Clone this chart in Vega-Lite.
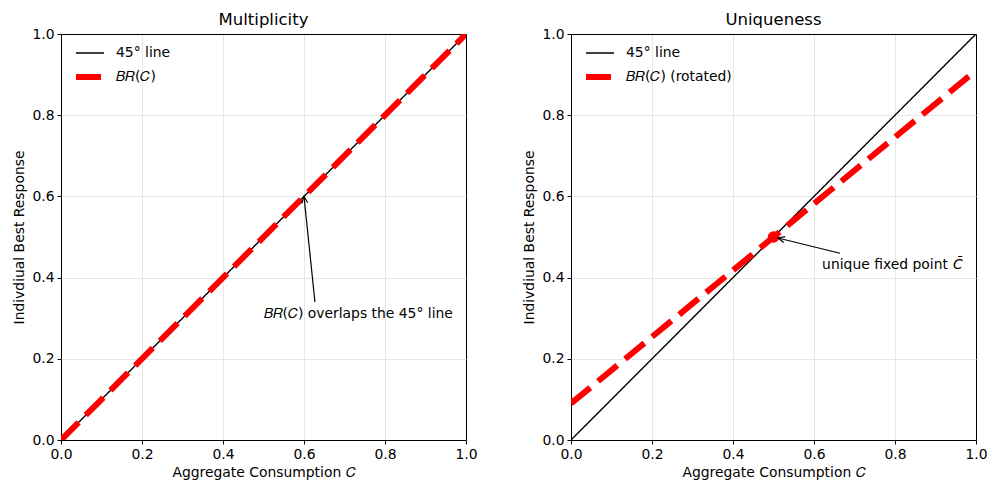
{
  "$schema": "https://vega.github.io/schema/vega-lite/v6.json",
  "padding": {"left": 12, "top": 11, "right": 5, "bottom": 0},
  "spacing": 44,
  "datasets": {
    "lines1": [
      {"C": 0, "y": 0, "series": "45° line"},
      {"C": 1, "y": 1, "series": "45° line"},
      {"C": 0, "y": 0, "series": "𝐵𝑅(𝐶)"},
      {"C": 1, "y": 1, "series": "𝐵𝑅(𝐶)"}
    ],
    "lines2": [
      {"C": 0, "y": 0, "series": "45° line"},
      {"C": 1, "y": 1, "series": "45° line"},
      {"C": 0, "y": 0.09, "series": "𝐵𝑅(𝐶) (rotated)"},
      {"C": 1, "y": 0.91, "series": "𝐵𝑅(𝐶) (rotated)"}
    ],
    "arrow1": [
      {"C": 0.627, "y": 0.34, "tip": false},
      {"C": 0.6, "y": 0.6, "tip": true}
    ],
    "arrow2": [
      {"C": 0.664, "y": 0.46, "tip": false},
      {"C": 0.511, "y": 0.4975, "tip": true}
    ],
    "label1": [{"C": 0.5, "y": 0.3, "text": "𝐵𝑅(𝐶) overlaps the 45° line"}],
    "label2": [{"C": 0.62, "y": 0.42, "text": "unique fixed point", "sym": "C̄"}],
    "fixed": [{"C": 0.5, "y": 0.5}]
  },
  "hconcat": [
    {
      "title": "Multiplicity",
      "width": 405,
      "height": 406,
      "encoding": {
        "x": {"field": "C", "type": "quantitative", "scale": {"domain": [0, 1], "nice": false, "zero": false},
              "axis": {"title": "Aggregate Consumption 𝐶", "values": [0, 0.2, 0.4, 0.6, 0.8, 1], "format": ".1f"}},
        "y": {"field": "y", "type": "quantitative", "scale": {"domain": [0, 1], "nice": false, "zero": false},
              "axis": {"title": "Indivdiual Best Response", "values": [0, 0.2, 0.4, 0.6, 0.8, 1], "format": ".1f"}}
      },
      "layer": [
        {
          "data": {"name": "lines1"},
          "transform": [{"filter": "datum.series === '45° line'"}],
          "mark": {"type": "line", "clip": true},
          "encoding": {
            "color": {"field": "series", "type": "nominal", "scale": {"domain": ["45° line", "𝐵𝑅(𝐶)"], "range": ["black", "red"]}, "legend": {"title": null}},
            "strokeWidth": {"field": "series", "type": "nominal", "scale": {"domain": ["45° line", "𝐵𝑅(𝐶)"], "range": [1.4, 6]}, "legend": {"title": null}},
            "strokeDash": {"field": "series", "type": "nominal", "scale": {"domain": ["45° line", "𝐵𝑅(𝐶)"], "range": [[1, 0], [25, 10]]}, "legend": {"title": null}}
          }
        },
        {
          "data": {"name": "lines1"},
          "transform": [{"filter": "datum.series !== '45° line'"}],
          "mark": {"type": "line", "clip": true},
          "encoding": {
            "color": {"field": "series", "type": "nominal"},
            "strokeWidth": {"field": "series", "type": "nominal"},
            "strokeDash": {"field": "series", "type": "nominal"}
          }
        },
        {
          "data": {"name": "arrow1"},
          "mark": {"type": "line", "color": "black", "strokeWidth": 1.2},
          "encoding": {}
        },
        {
          "data": {"name": "arrow1"},
          "transform": [{"filter": "datum.tip"}],
          "mark": {"type": "point", "shape": "M -0.45 1 L 0 0 L 0.45 1", "filled": false, "stroke": "black", "strokeWidth": 1.2, "size": 180, "angle": 354, "opacity": 1},
          "encoding": {}
        },
        {
          "data": {"name": "label1"},
          "mark": {"type": "text", "align": "left", "baseline": "alphabetic", "fontSize": 13.9, "color": "black"},
          "encoding": {"text": {"field": "text"}}
        }
      ]
    },
    {
      "title": "Uniqueness",
      "width": 405,
      "height": 406,
      "encoding": {
        "x": {"field": "C", "type": "quantitative", "scale": {"domain": [0, 1], "nice": false, "zero": false},
              "axis": {"title": "Aggregate Consumption 𝐶", "values": [0, 0.2, 0.4, 0.6, 0.8, 1], "format": ".1f"}},
        "y": {"field": "y", "type": "quantitative", "scale": {"domain": [0, 1], "nice": false, "zero": false},
              "axis": {"title": "Indivdiual Best Response", "values": [0, 0.2, 0.4, 0.6, 0.8, 1], "format": ".1f"}}
      },
      "layer": [
        {
          "data": {"name": "lines2"},
          "transform": [{"filter": "datum.series === '45° line'"}],
          "mark": {"type": "line", "clip": true},
          "encoding": {
            "color": {"field": "series", "type": "nominal", "scale": {"domain": ["45° line", "𝐵𝑅(𝐶) (rotated)"], "range": ["black", "red"]}, "legend": {"title": null}},
            "strokeWidth": {"field": "series", "type": "nominal", "scale": {"domain": ["45° line", "𝐵𝑅(𝐶) (rotated)"], "range": [1.4, 6]}, "legend": {"title": null}},
            "strokeDash": {"field": "series", "type": "nominal", "scale": {"domain": ["45° line", "𝐵𝑅(𝐶) (rotated)"], "range": [[1, 0], [25, 10]]}, "legend": {"title": null}}
          }
        },
        {
          "data": {"name": "lines2"},
          "transform": [{"filter": "datum.series !== '45° line'"}],
          "mark": {"type": "line", "clip": true},
          "encoding": {
            "color": {"field": "series", "type": "nominal"},
            "strokeWidth": {"field": "series", "type": "nominal"},
            "strokeDash": {"field": "series", "type": "nominal"}
          }
        },
        {
          "data": {"name": "fixed"},
          "mark": {"type": "point", "filled": true, "color": "red", "size": 135, "opacity": 1},
          "encoding": {}
        },
        {
          "data": {"name": "arrow2"},
          "mark": {"type": "line", "color": "black", "strokeWidth": 1.2},
          "encoding": {}
        },
        {
          "data": {"name": "arrow2"},
          "transform": [{"filter": "datum.tip"}],
          "mark": {"type": "point", "shape": "M -0.45 1 L 0 0 L 0.45 1", "filled": false, "stroke": "black", "strokeWidth": 1.2, "size": 180, "angle": 284, "opacity": 1},
          "encoding": {}
        },
        {
          "data": {"name": "label2"},
          "mark": {"type": "text", "align": "left", "baseline": "alphabetic", "fontSize": 13.9, "color": "black"},
          "encoding": {"text": {"field": "text"}}
        },
        {
          "data": {"name": "label2"},
          "mark": {"type": "text", "align": "left", "baseline": "alphabetic", "fontSize": 13.9, "fontStyle": "italic", "color": "black", "dx": 131},
          "encoding": {"text": {"field": "sym"}}
        }
      ]
    }
  ],
  "resolve": {"scale": {"color": "independent", "strokeWidth": "independent", "strokeDash": "independent"}, "legend": {"color": "independent", "strokeWidth": "independent", "strokeDash": "independent"}},
  "config": {
    "font": "DejaVu Sans",
    "view": {"stroke": null},
    "axis": {
      "grid": true,
      "gridColor": {"condition": {"test": "datum.value === 0 || datum.value === 1", "value": "black"}, "value": "#e6e6e6"},
      "gridWidth": 1,
      "domain": false, "tickColor": "black", "tickSize": 4, "tickWidth": 1,
      "labelFontSize": 13.9, "titleFontSize": 13.9, "labelColor": "black", "titleColor": "black",
      "titleFontWeight": "normal", "labelFlush": false, "labelOverlap": false, "labelPadding": 3, "titlePadding": 5
    },
    "title": {"fontSize": 16.5, "fontWeight": "normal", "offset": -1, "color": "black"},
    "legend": {
      "orient": "none", "legendX": 12, "legendY": 4, "padding": 0, "symbolType": "stroke", "symbolSize": 784,
      "labelFontSize": 13.9, "labelColor": "black", "labelOffset": 9, "rowPadding": -10
    }
  }
}
